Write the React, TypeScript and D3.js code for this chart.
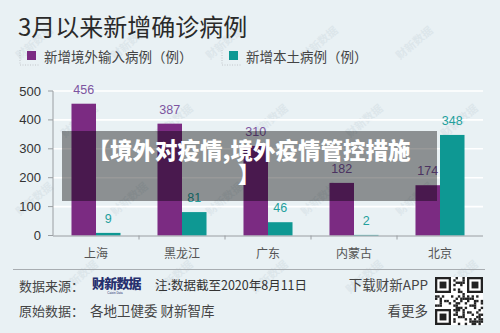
import React from 'react';
import * as d3 from 'd3';

// data
const provinces = ['上海', '黑龙江', '广东', '内蒙古', '北京'];
const importedCases = [456, 387, 310, 182, 174];
const localCases = [9, 81, 46, 2, 348];
const seriesNames = ['新增境外输入病例（例）', '新增本土病例（例）'];
const yTicks = [0, 100, 200, 300, 400, 500];

const W = 500;
const H = 333;
const margin = { top: 91, right: 17, bottom: 97, left: 53 };
const purple = '#7b2b82';
const teal = '#0e9893';
const fontCn = '"Noto Sans CJK SC", "Noto Sans", sans-serif';
const fontNum = '"Liberation Sans", "Noto Sans CJK SC", sans-serif';

// simple fixed pattern for the QR-like image (decoration only)
const qrBits = (i: number, j: number) => ((i * 7 + j * 13 + ((i * j) % 5)) % 3 === 0) || ((i + j * 3) % 7 === 1);

const App = () => {
  const x0 = d3.scaleBand<string>()
    .domain(provinces)
    .range([margin.left, W - margin.right])
    .paddingInner(0.43)
    .paddingOuter(0.215);
  const x1 = d3.scaleBand<number>()
    .domain([0, 1])
    .range([0, x0.bandwidth()]);
  const y = d3.scaleLinear()
    .domain([0, 500])
    .range([H - margin.bottom - 0.5, margin.top]);

  const step = x0.step();
  const dividers = provinces.slice(1).map((_, i) => margin.left + step * (i + 1));

  const series = [importedCases, localCases];
  const colors = [purple, teal];
  const labelColors = ['#7d55a0', '#23a09c'];

  // watermark positions, kept inside the picture
  const marks: [number, number][] = [];
  for (let i = 0; i < 5; i++) {
    for (let j = 0; j < 4; j++) marks.push([i * 95 + (j % 2) * 45 + 20, j * 78 + 60]);
  }

  const qrN = 21;
  const qrSize = 48;
  const cell = qrSize / qrN;
  const qx = 435, qy = 277;
  const finder = (fx: number, fy: number, k: string) => (
    <g key={k}>
      <rect x={fx} y={fy} width={cell * 7} height={cell * 7} fill="#222" />
      <rect x={fx + cell} y={fy + cell} width={cell * 5} height={cell * 5} fill="#fff" />
      <rect x={fx + cell * 2} y={fy + cell * 2} width={cell * 3} height={cell * 3} fill="#222" />
    </g>
  );
  const qrCells: JSX.Element[] = [];
  for (let i = 0; i < qrN; i++) {
    for (let j = 0; j < qrN; j++) {
      const inFinder = (i < 8 && j < 8) || (i < 8 && j > qrN - 9) || (i > qrN - 9 && j < 8);
      if (!inFinder && qrBits(i, j)) {
        qrCells.push(<rect key={`q${i}-${j}`} x={qx + j * cell} y={qy + i * cell} width={cell + 0.1} height={cell + 0.1} fill="#222" />);
      }
    }
  }

  return (
    <svg width={W} height={H} style={{ position: 'absolute', left: 0, top: 0, background: '#e9f1f4' }}>
      <rect width={W} height={H} fill="#e9f1f4" />

      {/* watermarks */}
      {marks.map(([mx, my], i) => (
        <text key={i} x={mx} y={my} transform={`rotate(-40 ${mx} ${my})`} fontFamily={fontCn} fontSize={11} fontWeight={700} fill="#9fb0bc" opacity={0.16}>财新数据</text>
      ))}

      {/* title */}
      <text x={18} y={36} fontFamily={fontCn} fontSize={24} fill="#2a2a2a">3月以来新增确诊病例</text>

      {/* legend */}
      {[20, 222].map((lx, i) => (
        <g key={lx}>
          <path d={`M${lx},50 V65 H${lx + 20}`} fill="none" stroke="#b8bcc0" strokeWidth={0.8} strokeDasharray="1,1.5" />
          <rect x={lx + 7} y={51} width={9} height={9} fill={colors[i]} />
          <text x={lx + 24} y={62} fontFamily={fontCn} fontSize={13.5} fill="#444">{seriesNames[i]}</text>
        </g>
      ))}

      {/* gridlines */}
      {yTicks.filter(t => t > 0).map(t => (
        <line key={t} x1={margin.left} x2={W - margin.right} y1={y(t)} y2={y(t)} stroke="#ffffff" strokeWidth={1.6} />
      ))}

      {/* y axis */}
      <line x1={margin.left} x2={margin.left} y1={y(500)} y2={y(0)} stroke="#9a9ea2" />
      {yTicks.map(t => (
        <g key={t}>
          <line x1={margin.left - 5} x2={margin.left} y1={y(t)} y2={y(t)} stroke="#9a9ea2" />
          <text x={41} y={y(t) + 4.5} textAnchor="end" fontFamily={fontNum} fontSize={13} fill="#333">{t}</text>
        </g>
      ))}

      {/* bars */}
      {series.map((vals, si) => vals.map((v, ci) => {
        const bx = (x0(provinces[ci]) ?? 0) + (x1(si) ?? 0);
        return (
          <g key={`${si}-${ci}`}>
            <rect x={bx} y={y(v)} width={x1.bandwidth()} height={y(0) - y(v)} fill={colors[si]} />
            <text x={bx + x1.bandwidth() / 2} y={y(v) - 10} textAnchor="middle" fontFamily={fontNum} fontSize={12.5} fill={labelColors[si]}>{v}</text>
          </g>
        );
      }))}

      {/* x axis */}
      <line x1={margin.left} x2={W - margin.right} y1={y(0) + 0.5} y2={y(0) + 0.5} stroke="#9a9ea2" />
      {dividers.map(d => (
        <line key={d} x1={d} x2={d} y1={y(0)} y2={y(0) + 4} stroke="#9a9ea2" />
      ))}
      {provinces.map(p => (
        <text key={p} x={(x0(p) ?? 0) + x0.bandwidth() / 2} y={258} textAnchor="middle" fontFamily={fontCn} fontSize={12} fill="#555">{p}</text>
      ))}

      {/* footer */}
      <line x1={13} x2={485} y1={269.5} y2={269.5} stroke="#a8adb1" />
      <text x={19} y={291} fontFamily={fontCn} fontSize={13} fill="#444">数据来源：</text>
      <text x={92} y={288} fontFamily={fontCn} fontSize={13} fontWeight={900} fill="#26306e" letterSpacing={-0.8}>财新数据</text>
      <text x={115} y={294} textAnchor="middle" fontFamily={fontNum} fontSize={3} fill="#26306e">Caixin Data</text>
      <text x={155} y={290} fontFamily={fontCn} fontSize={12.5} fill="#333">注:数据截至2020年8月11日</text>
      <text x={19} y={316} fontFamily={fontCn} fontSize={13} fill="#444">原始数据：</text>
      <text x={90} y={316} fontFamily={fontCn} fontSize={13.5} fill="#444">各地卫健委 财新智库</text>
      <text x={428} y={290} textAnchor="end" fontFamily={fontCn} fontSize={13.5} fill="#444">下载财新APP</text>
      <text x={428} y={316} textAnchor="end" fontFamily={fontCn} fontSize={13.5} fill="#444">看更多</text>

      {/* QR-like image */}
      <rect x={qx} y={qy} width={qrSize} height={qrSize} fill="#fff" />
      {qrCells}
      {finder(qx, qy, 'f1')}
      {finder(qx + cell * (qrN - 7), qy, 'f2')}
      {finder(qx, qy + cell * (qrN - 7), 'f3')}

      {/* overlay banner */}
      <rect x={62} y={131} width={375} height={70} fill="rgba(0,0,0,0.4)" />
      <text x={249} y={159} textAnchor="middle" fontFamily={fontCn} fontSize={22.5} fontWeight={900} fill="#ffffff">【境外对疫情,境外疫情管控措施</text>
      <text x={249} y={183} textAnchor="middle" fontFamily={fontCn} fontSize={22.5} fontWeight={900} fill="#ffffff">】</text>
    </svg>
  );
};

export default App;
